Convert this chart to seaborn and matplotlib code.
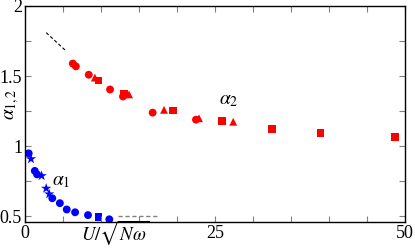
import seaborn as sns
import matplotlib.pyplot as plt
import pandas as pd
from matplotlib.ticker import MultipleLocator, FuncFormatter

# alpha_2 (red) points
a2_x = [6.3, 6.7, 8.4, 9.2, 9.7, 11.2, 13.0, 13.7, 12.9, 16.8, 18.3, 19.5,
        22.5, 22.9, 25.9, 27.4, 32.5, 38.9, 48.7]
a2_y = [1.59, 1.57, 1.51, 1.49, 1.47, 1.405, 1.376, 1.37, 1.355, 1.24, 1.26,
        1.255, 1.19, 1.20, 1.18, 1.175, 1.125, 1.097, 1.068]
a2_m = ['o', 'o', 'o', '^', 's', 'o', 's', '^', 'o', 'o', '^', 's',
        'o', '^', 's', '^', 's', 's', 's']

# alpha_1 (blue) points
a1_x = [0.5, 0.8, 1.3, 1.6, 2.2, 2.8, 3.2, 3.6, 4.6, 5.5, 6.6, 8.3, 9.7, 11.1]
a1_y = [0.95, 0.91, 0.825, 0.80, 0.79, 0.70, 0.66, 0.63, 0.595, 0.55, 0.53,
        0.51, 0.495, 0.48]
a1_m = ['o', '*', 'o', 'o', '*', '*', '*', 'o', 'o', 'o', 'o', 'o', 's', 'o']

# asymptotes
dash_a2_x = [2.8, 5.4]
dash_a2_y = [1.81, 1.68]
dash_a1_x = [12.2, 17.4]
dash_a1_y = [0.50, 0.50]

df = pd.DataFrame({
    'x': a2_x + a1_x,
    'y': a2_y + a1_y,
    'series': ['a2'] * len(a2_x) + ['a1'] * len(a1_x),
    'marker': a2_m + a1_m,
})

plt.rcParams['mathtext.fontset'] = 'stix'
plt.rcParams['font.family'] = ['Liberation Serif', 'DejaVu Serif']

fig = plt.figure(figsize=(4.15, 2.49), dpi=100)
ax = fig.add_axes([0.060, 0.108, 0.916, 0.868])

sns.scatterplot(data=df, x='x', y='y', hue='series', style='marker',
                size='marker', sizes={'o': 32, '^': 32, 's': 30, '*': 60},
                palette={'a2': '#ff0000', 'a1': '#0000ff'},
                markers={'o': 'o', '^': '^', 's': 's', '*': '*'},
                linewidth=0, legend=False, ax=ax)

ax.plot(dash_a2_x, dash_a2_y, color='black', lw=0.8, ls=(0, (3, 2)))
ax.plot(dash_a1_x, dash_a1_y, color='gray', lw=1.0, ls=(0, (3, 2)))

ax.set_xlim(0, 50)
ax.set_ylim(0.46, 2.0)

ax.xaxis.set_major_locator(MultipleLocator(5))
ax.yaxis.set_major_locator(MultipleLocator(0.25))
ax.xaxis.set_major_formatter(FuncFormatter(
    lambda v, p: f'{v:g}' if abs(v % 25) < 1e-6 else ''))
ax.yaxis.set_major_formatter(FuncFormatter(
    lambda v, p: f'{v:g}' if abs(v % 0.5) < 1e-6 else ''))
ax.tick_params(direction='in', top=True, right=True, length=4,
               color='gray', labelsize=13, pad=2)

ax.set_xlabel('')
ax.set_ylabel('')
ax.text(11.8, 0.385, r'$U/\sqrt{N\omega}$', fontsize=13.5,
        ha='center', va='center')
ax.text(-1.7, 1.3, r'$\alpha_{1,2}$', fontsize=14, rotation=90,
        ha='center', va='center')
ax.text(3.6, 0.75, r'$\alpha_1$', fontsize=14, ha='left', va='center')
ax.text(25.5, 1.33, r'$\alpha_2$', fontsize=14, ha='left', va='center')

for sp in ax.spines.values():
    sp.set_color('black')
    sp.set_linewidth(1.0)

plt.savefig('out.png', dpi=100)
